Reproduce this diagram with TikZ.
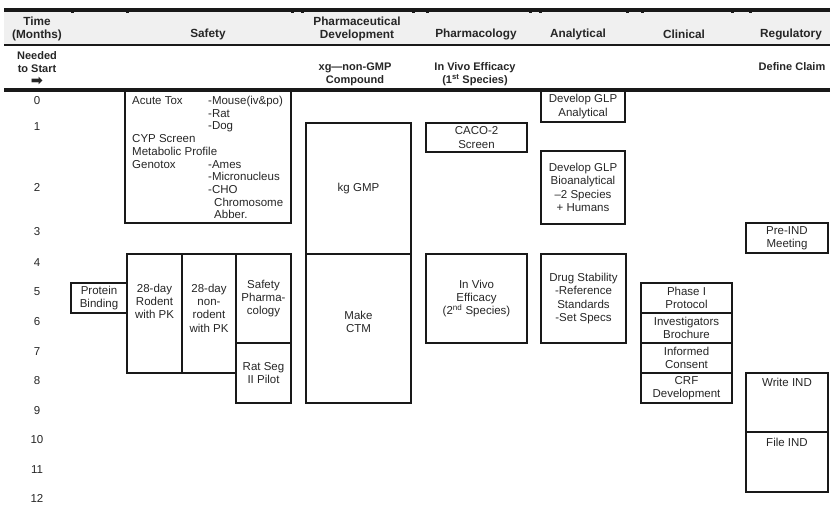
\documentclass[tikz,border=0pt]{standalone}
\usepackage{fontspec}
\setmainfont{Liberation Sans}
\newfontfamily\symfont{DejaVu Sans}
\usetikzlibrary{positioning}

\begin{document}
\begin{tikzpicture}[x=1pt,y=-1pt,
						taskbox/.style={draw=black!90, line width=2pt, anchor=north west, inner sep=1pt, outer sep=0pt, align=center, text=black!85, font=\fontsize{11.5}{13.3}\selectfont},
						tasktext/.style={inner sep=1pt, align=center, text=black!85, font=\fontsize{11.5}{13.3}\selectfont},
						headnode/.style={inner sep=1pt, align=center, text=black!85, font=\fontsize{11.8}{13}\selectfont\bfseries},
						neednode/.style={inner sep=1pt, align=center, text=black!85, font=\fontsize{11}{13}\selectfont\bfseries},
						monthnode/.style={inner sep=1pt, text=black!85, font=\fontsize{11.5}{13}\selectfont},
						]
						\useasboundingbox (0,0) rectangle (830,510);
						%Header rules
						\fill[black!6] (4,10) rectangle (830,45);
						\draw[line width=3.5pt, black!90] (4,10) -- (830,10);
						\draw[line width=2pt, black!90] (4,45) -- (830,45);
						\draw[line width=4pt, black!90] (4,90) -- (830,90);
						\foreach \x in {72,127,292,302,413,427,530,540,627,642,732,750}
							\fill[black!90] (\x-1.5,11) rectangle (\x+1.5,13.5);
						
						%Header texts
						\node[headnode]      (htime)     at  (37,29)     {Time\\(Months)};
						\node[headnode]      (hsafety)   at  (208,34)    {Safety};
						\node[headnode]      (hpharmdev) at  (357,29)    {Pharmaceutical\\Development};
						\node[headnode]      (hpharmaco) at  (476,34)    {Pharmacology};
						\node[headnode]      (hanalyt)   at  (578,34)    {Analytical};
						\node[headnode]      (hclinic)   at  (684,34)    {Clinical};
						\node[headnode]      (hregul)    at  (791,34)    {Regulatory};
						\node[neednode]      (nstart)    at  (37,69)     {Needed\\to Start\\{\fontsize{14.5}{13}\symfont ➡}};
						\node[neednode]      (ncompound) at  (355,74)    {xg—non-GMP\\Compound};
						\node[neednode]      (nefficacy) at  (475,74)    {In Vivo Efficacy\\(1\textsuperscript{st} Species)};
						\node[neednode]      (nclaim)    at  (792,67)    {Define Claim};
						
						%Months
						\foreach \m/\y in {0/101,1/127,2/187,3/232,4/263,5/292,6/322,7/352,8/381,9/411,10/440,11/470,12/498}
							\node[monthnode] (m\m) at (37,\y) {\m};
						
						%Safety
						\node[taskbox, minimum width=166, minimum height=132] (acutetox) at (125,91) {};
						\node[tasktext, align=left, anchor=north west, font=\fontsize{11.5}{12.7}\selectfont]
							(acutetext) at (131,95) {\makebox[76pt][l]{Acute Tox}-Mouse(iv\&po)\\
							\makebox[76pt][l]{}-Rat\\
							\makebox[76pt][l]{}-Dog\\
							CYP Screen\\
							Metabolic Profile\\
							\makebox[76pt][l]{Genotox}-Ames\\
							\makebox[76pt][l]{}-Micronucleus\\
							\makebox[76pt][l]{}-CHO\\
							\makebox[82pt][l]{}Chromosome\\
							\makebox[82pt][l]{}Abber.};
						\node[taskbox, minimum width=56, minimum height=30]  (protbind)    at (71,283)   {Protein\\Binding};
						\node[taskbox, minimum width=55, minimum height=119] (rodent)      at (127,254)  {};
						\node[tasktext, below=28.8pt of rodent.north]        (rodenttext)  {28-day\\Rodent\\with PK};
						\node[taskbox, minimum width=54, minimum height=119] (nonrodent)   at (182,254)  {};
						\node[tasktext, below=28.8pt of nonrodent.north]     (nonrodtext)  {28-day\\non-\\rodent\\with PK};
						\node[taskbox, minimum width=55, minimum height=89]  (safetypharm) at (236,254)  {Safety\\Pharma-\\cology};
						\node[taskbox, minimum width=55, minimum height=60]  (ratseg)      at (236,343)  {Rat Seg\\II Pilot};
						
						%Pharmaceutical Development
						\node[taskbox, minimum width=105, minimum height=131] (kggmp)   at (306,123) {kg GMP};
						\node[taskbox, minimum width=105, minimum height=149] (makectm) at (306,254) {};
						\node[tasktext, below=55.8pt of makectm.north]        (ctmtext) {Make\\CTM};
						
						%Pharmacology
						\node[taskbox, minimum width=101, minimum height=29]  (caco)    at (426,123) {CACO-2\\Screen};
						\node[taskbox, minimum width=101, minimum height=89]  (invivo)  at (426,254) {In Vivo\\Efficacy\\(2\textsuperscript{nd} Species)};
						
						%Analytical
						\node[taskbox, minimum width=84, minimum height=31]   (glpanal)  at (541,91)  {Develop GLP\\Analytical};
						\node[taskbox, minimum width=84, minimum height=73]   (glpbio)   at (541,151) {Develop GLP\\Bioanalytical\\–2 Species\\+ Humans};
						\node[taskbox, minimum width=85, minimum height=89]   (drugstab) at (541,254) {Drug Stability\\-Reference\\Standards\\-Set Specs};
						
						%Clinical
						\node[taskbox, minimum width=91, minimum height=30]   (phase1)   at (641,283) {Phase I\\Protocol};
						\node[taskbox, minimum width=91, minimum height=30]   (invbroch) at (641,313) {Investigators\\Brochure};
						\node[taskbox, minimum width=91, minimum height=30]   (consent)  at (641,343) {Informed\\Consent};
						\node[taskbox, minimum width=91, minimum height=30]   (crf)      at (641,373) {CRF\\Development};
						
						%Regulatory
						\node[taskbox, minimum width=82, minimum height=30]   (preind)   at (746,223) {Pre-IND\\Meeting};
						\node[taskbox, minimum width=82, minimum height=59]   (writeind) at (746,373) {};
						\node[tasktext, below=3.8pt of writeind.north]        (writetext) {Write IND};
						\node[taskbox, minimum width=82, minimum height=60]   (fileind)  at (746,432) {};
						\node[tasktext, below=4.8pt of fileind.north]         (filetext)  {File IND};
					\end{tikzpicture}
\end{document}
